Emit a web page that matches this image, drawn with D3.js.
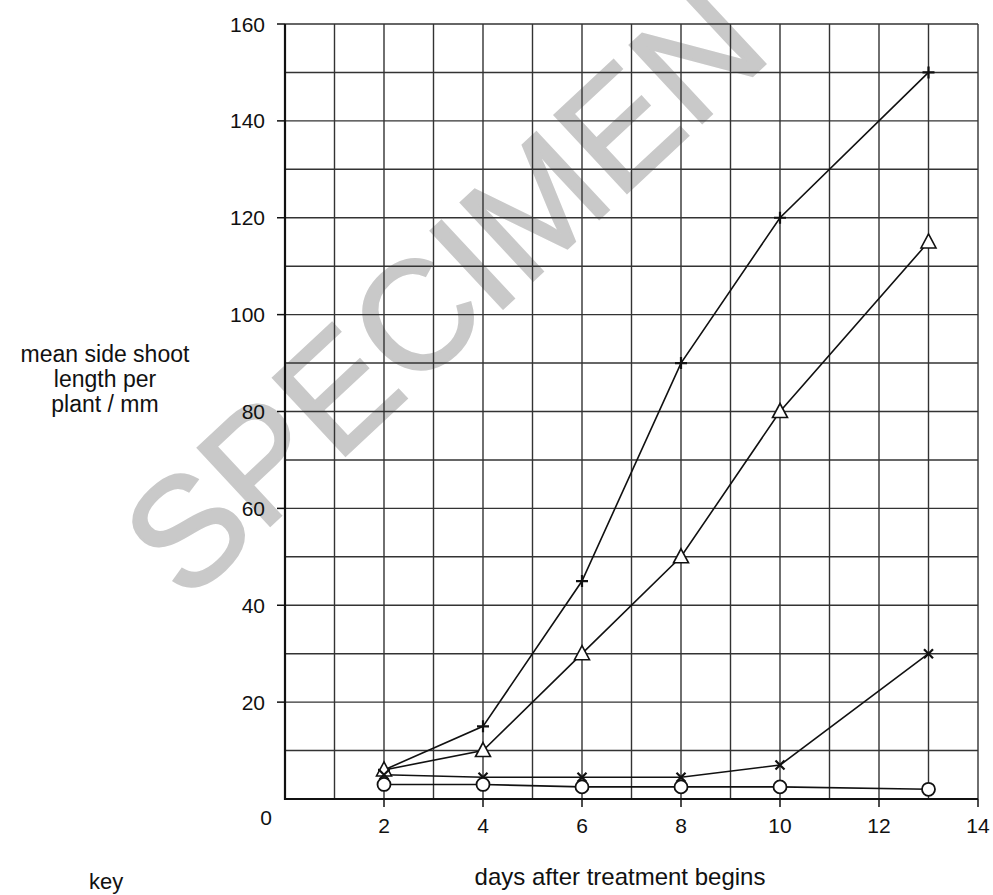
<!DOCTYPE html>
<html>
<head>
<meta charset="utf-8">
<script src="https://cdn.jsdelivr.net/npm/d3@7"></script>
<style>
  html, body { margin: 0; padding: 0; background: #fff; }
  svg { display: block; font-family: "Liberation Sans", Arial, sans-serif; }
</style>
</head>
<body>
<div id="chart"></div>
<script>
// ── DATA ─────────────────────────────────────────────────────────────────────
const days = [2, 4, 6, 8, 10, 13];

const plusSeries     = [6, 15, 45, 90, 120, 150];
const triangleSeries = [6, 10, 30, 50, 80, 115];
const crossSeries    = [5, 4.5, 4.5, 4.5, 7, 30];
const circleSeries   = [3, 3, 2.5, 2.5, 2.5, 2];

const yTicks = [20, 40, 60, 80, 100, 120, 140, 160];
const xTicks = [2, 4, 6, 8, 10, 12, 14];

const yTitleLines = ['mean side shoot', 'length per', 'plant / mm'];
const xTitle      = 'days after treatment begins';
const keyLabel    = 'key';
const watermark   = 'SPECIMEN';

// ── DIMENSIONS ───────────────────────────────────────────────────────────────
const W = 993, H = 895;
const plot = { left: 285, right: 978, top: 24, bottom: 799 };

const svg = d3.select('#chart')
  .append('svg')
    .attr('width', W)
    .attr('height', H);

const x = d3.scaleLinear().domain([0, 14]).range([plot.left, plot.right]);
const y = d3.scaleLinear().domain([0, 160]).range([plot.bottom, plot.top]);

// ── WATERMARK ────────────────────────────────────────────────────────────────
svg.append('text')
  .attr('transform', 'translate(186,604) rotate(-43)')
  .attr('font-size', 154)
  .attr('fill', '#c9c9c9')
  .attr('stroke', '#c9c9c9')
  .attr('stroke-width', 2.5)
  .text(watermark);

// ── GRID ─────────────────────────────────────────────────────────────────────
const grid = svg.append('g')
  .attr('stroke', '#333')
  .attr('stroke-width', 1.4);

grid.selectAll('.vgrid')
  .data(d3.range(1, 15))
  .join('line')
    .attr('x1', d => x(d)).attr('x2', d => x(d))
    .attr('y1', y(0)).attr('y2', y(160));

grid.selectAll('.hgrid')
  .data(d3.range(10, 161, 10))
  .join('line')
    .attr('x1', x(0)).attr('x2', x(14))
    .attr('y1', d => y(d)).attr('y2', d => y(d));

// ── AXES ─────────────────────────────────────────────────────────────────────
const axisG = svg.append('g').attr('stroke', '#111').attr('stroke-width', 2.2);
axisG.append('line')
  .attr('x1', x(0)).attr('x2', x(0))
  .attr('y1', y(0) + 1).attr('y2', y(160));
axisG.append('line')
  .attr('x1', x(0)).attr('x2', x(14))
  .attr('y1', y(0)).attr('y2', y(0));

axisG.selectAll('.ytick')
  .data(yTicks)
  .join('line')
    .attr('stroke-width', 1.5)
    .attr('x1', x(0) - 8).attr('x2', x(0))
    .attr('y1', d => y(d)).attr('y2', d => y(d));

axisG.selectAll('.xtick')
  .data(xTicks)
  .join('line')
    .attr('stroke-width', 1.5)
    .attr('x1', d => x(d)).attr('x2', d => x(d))
    .attr('y1', y(0)).attr('y2', y(0) + 8);

svg.selectAll('.ylabel')
  .data(yTicks)
  .join('text')
    .attr('x', x(0) - 20)
    .attr('y', d => y(d))
    .attr('dy', '0.36em')
    .attr('text-anchor', 'end')
    .attr('font-size', 21)
    .attr('fill', '#111')
    .text(d => d);

svg.selectAll('.xlabel')
  .data(xTicks)
  .join('text')
    .attr('x', d => x(d))
    .attr('y', y(0) + 34)
    .attr('text-anchor', 'middle')
    .attr('font-size', 21)
    .attr('fill', '#111')
    .text(d => d);

svg.append('text')
  .attr('x', x(0) - 19)
  .attr('y', y(0) + 26)
  .attr('text-anchor', 'middle')
  .attr('font-size', 21)
  .attr('fill', '#111')
  .text(0);

// ── TITLES ───────────────────────────────────────────────────────────────────
svg.append('text')
  .attr('x', 105)
  .attr('y', 362)
  .attr('text-anchor', 'middle')
  .attr('font-size', 23)
  .attr('fill', '#111')
  .selectAll('tspan')
  .data(yTitleLines)
  .join('tspan')
    .attr('x', 105)
    .attr('dy', (d, i) => i === 0 ? 0 : 25)
    .text(d => d);

svg.append('text')
  .attr('x', 620)
  .attr('y', 885)
  .attr('text-anchor', 'middle')
  .attr('font-size', 24)
  .attr('fill', '#111')
  .text(xTitle);

svg.append('text')
  .attr('x', 89)
  .attr('y', 889)
  .attr('font-size', 22)
  .attr('fill', '#111')
  .text(keyLabel);

// ── LINES ────────────────────────────────────────────────────────────────────
const allSeries = [
  { name: 'plus',     values: plusSeries },
  { name: 'triangle', values: triangleSeries },
  { name: 'cross',    values: crossSeries },
  { name: 'circle',   values: circleSeries }
];

const line = d3.line()
  .x((d, i) => x(days[i]))
  .y(d => y(d));

svg.append('g')
  .selectAll('path')
  .data(allSeries)
  .join('path')
    .attr('fill', 'none')
    .attr('stroke', '#111')
    .attr('stroke-width', 1.6)
    .attr('d', d => line(d.values));

// ── MARKERS ──────────────────────────────────────────────────────────────────
const markerPath = {
  plus:     'M-6,0H6M0,-6V6',
  cross:    'M-4.5,-4.5L4.5,4.5M-4.5,4.5L4.5,-4.5',
  triangle: 'M0,-8L7.5,6H-7.5Z'
};

allSeries.forEach(s => {
  const g = svg.append('g');
  const pts = s.values.map((v, i) => ({ day: days[i], v }));
  if (s.name === 'circle') {
    g.selectAll('circle')
      .data(pts)
      .join('circle')
        .attr('cx', d => x(d.day))
        .attr('cy', d => y(d.v))
        .attr('r', 6.5)
        .attr('fill', '#fff')
        .attr('stroke', '#111')
        .attr('stroke-width', 1.8);
  } else {
    g.selectAll('path')
      .data(pts)
      .join('path')
        .attr('transform', d => `translate(${x(d.day)},${y(d.v)})`)
        .attr('d', markerPath[s.name])
        .attr('fill', s.name === 'triangle' ? '#fff' : 'none')
        .attr('stroke', '#111')
        .attr('stroke-width', s.name === 'triangle' ? 1.6 : 2.2);
  }
});
</script>
</body>
</html>
